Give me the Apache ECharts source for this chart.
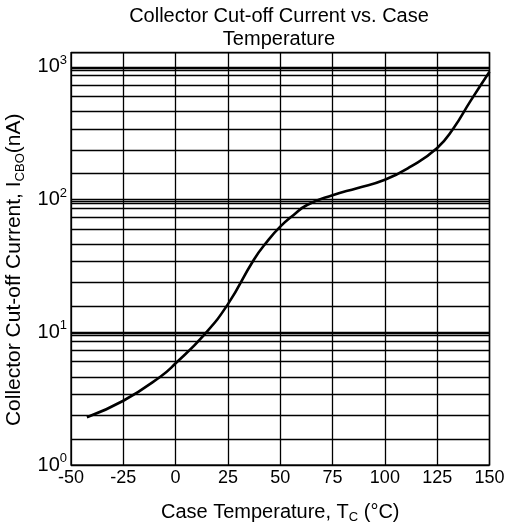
<!DOCTYPE html>
<html>
<head>
<meta charset="utf-8">
<script src="https://cdn.jsdelivr.net/npm/echarts@6/dist/echarts.min.js"></script>
<style>
html,body{margin:0;padding:0;background:#fff;}
#chart{width:510px;height:528px;}
</style>
</head>
<body>
<div id="chart"></div>
<script>
// Case temperature (°C)
var temperature = [-42.4, -25, -7.3, 0, 13.4, 25, 37.3, 43.7, 50, 56.4, 62.8, 75, 86.7, 100, 112.5, 125, 132.8, 140.8, 150];
// Collector cut-off current ICBO (nA)
var icbo = [2.29, 3.05, 4.63, 5.84, 9.5, 16.3, 35.1, 48.2, 62.5, 76.6, 91.1, 108, 122, 141, 178, 245, 345, 550, 920];
// x ticks
var xTicks = [-50, -25, 0, 25, 50, 75, 100, 125, 150];
// decades shown on the log axis
var decades = [1, 10, 100];
// minor grid line multipliers within each decade (as seen in the picture)
var gridMultipliers = [1.567, 2.371, 3.404, 4.613, 5.998, 7.328, 8.61, 9.44, 9.77];

var FONT = "'Liberation Sans', Arial, Helvetica, sans-serif";

var minorLines = [];
decades.forEach(function (d) {
  gridMultipliers.forEach(function (m) { minorLines.push({ yAxis: d * m }); });
});

var chart = echarts.init(document.getElementById('chart'), null, { renderer: 'canvas' });
chart.setOption({
  animation: false,
  backgroundColor: '#fff',
  textStyle: { fontFamily: FONT },
  title: {
    text: 'Collector Cut-off Current vs. Case\nTemperature',
    left: 274,
    top: 0,
    textAlign: 'center',
    textStyle: { fontFamily: FONT, fontSize: 20, fontWeight: 'normal', color: '#000', lineHeight: 23 }
  },
  grid: {
    left: 71, right: 20.5, top: 52.7, bottom: 63,
    outerBoundsMode: 'none',
    containLabel: false,
    show: true, borderColor: '#222', borderWidth: 1.5, backgroundColor: 'transparent'
  },
  xAxis: {
    type: 'value',
    min: xTicks[0], max: xTicks[xTicks.length - 1], interval: 25,
    name: '{n|Case Temperature, T}{sub|C}{n| (°C)}',
    nameLocation: 'middle', nameGap: 35,
    nameTextStyle: {
      rich: {
        n: { fontFamily: FONT, fontSize: 20, color: '#000', lineHeight: 24 },
        sub: { fontFamily: FONT, fontSize: 13, color: '#000', lineHeight: 13, verticalAlign: 'bottom' }
      }
    },
    axisLine: { show: false },
    axisTick: { show: false },
    axisLabel: { fontFamily: FONT, fontSize: 18, color: '#000', margin: 4 },
    splitLine: { show: true, lineStyle: { color: '#000', width: 1.3 } }
  },
  yAxis: {
    type: 'log', logBase: 10,
    min: 1, max: 1280,
    name: '{n|Collector Cut-off Current, I}{sub|CBO}{n|(nA)}',
    nameLocation: 'middle', nameRotate: 90, nameGap: 34,
    nameTextStyle: {
      padding: [0, 22, 0, 0],
      rich: {
        n: { fontFamily: FONT, fontSize: 21, color: '#000', lineHeight: 24 },
        sub: { fontFamily: FONT, fontSize: 13, color: '#000', lineHeight: 13, verticalAlign: 'bottom' }
      }
    },
    axisLine: { show: false },
    axisTick: { show: false },
    axisLabel: {
      margin: 4,
      formatter: function (v) {
        var e = Math.log(v) / Math.LN10;
        var r = Math.round(e);
        if (Math.abs(e - r) > 1e-6) return '';
        return '{b|10}{s|' + r + '}';
      },
      rich: {
        b: { fontFamily: FONT, fontSize: 20, color: '#000', lineHeight: 26 },
        s: { fontFamily: FONT, fontSize: 13, color: '#000', lineHeight: 14, verticalAlign: 'top' }
      }
    },
    splitLine: { show: true, lineStyle: { color: '#000', width: 1.3 } }
  },
  series: [{
    type: 'line',
    data: temperature.map(function (t, i) { return [t, icbo[i]]; }),
    smooth: 0.5,
    showSymbol: false,
    symbol: 'none',
    lineStyle: { color: '#000', width: 2.6 },
    z: 5,
    markLine: {
      silent: true,
      symbol: 'none',
      label: { show: false },
      lineStyle: { color: '#000', width: 1.3, type: 'solid' },
      data: minorLines,
      z: 1
    }
  }]
});
</script>
</body>
</html>
